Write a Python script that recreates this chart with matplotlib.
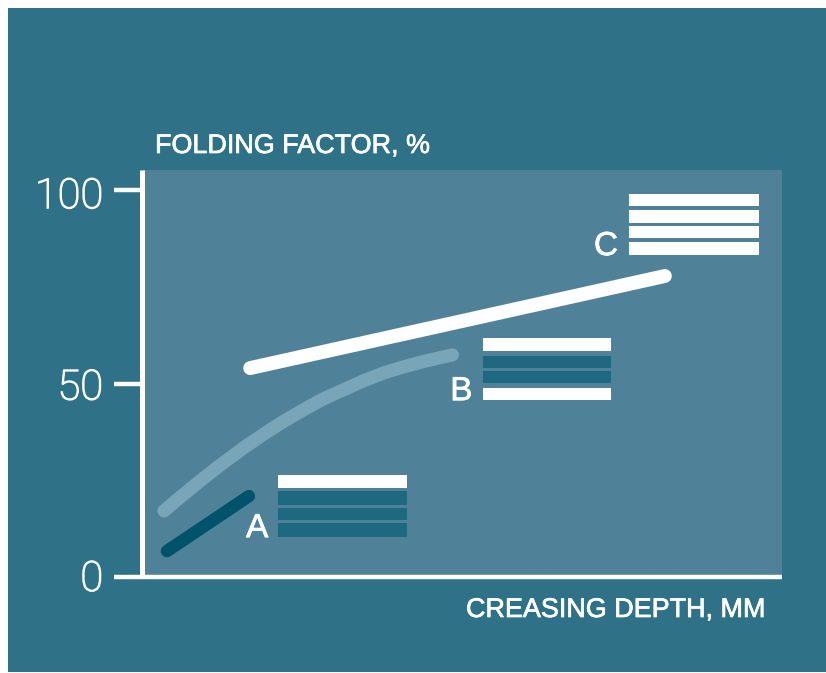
import matplotlib
matplotlib.use('Agg')
import matplotlib.pyplot as plt
import matplotlib.patheffects as pe
from matplotlib.patches import Rectangle
from matplotlib.transforms import ScaledTranslation

plt.rcParams['font.family'] = ['Liberation Sans', 'DejaVu Sans']

W, H = 826, 673

# curves, x has no scale in the source so 0-100 is used along the axis
a_x = [3.9, 16.7]
a_y = [6.7, 20.9]
b_x = [3.44, 6.46, 9.58, 12.7, 15.8, 19.0, 22.1, 25.2, 28.3, 31.5, 34.6, 37.7, 40.8, 44.0, 47.1, 48.5]
b_y = [17.1, 21.3, 25.5, 29.5, 33.3, 36.9, 40.2, 43.2, 46.0, 48.4, 50.7, 52.7, 54.3, 55.7, 56.9, 57.4]
c_x = [16.9, 81.7]
c_y = [54, 77.8]

y_ticks = [0, 50, 100]
y_labels = ['0', '50', '100']

# layer colours top to bottom for each sample
bg = '#2f7288'
panel = '#4f8299'
white = '#ffffff'
layer = '#1f6980'
a_layers = [white, layer, layer, layer]
b_layers = [white, layer, layer, white]
c_layers = [white, white, white, white]


def stack(ax, x0, x1, tops, bottoms, colors):
    # tops and bottoms in y units of the chart
    for t, b, col in zip(tops, bottoms, colors):
        ax.barh((t + b) / 2, x1 - x0, height=t - b, left=x0, color=col, linewidth=0, zorder=3)


fig = plt.figure(figsize=(W / 100, H / 100), dpi=100, facecolor='white')
fig.patches.append(Rectangle((8 / W, 1 - 672 / H), (W - 8) / W, 664 / H,
                             transform=fig.transFigure, facecolor=bg, linewidth=0, zorder=-1))

ax = fig.add_axes([142 / W, (H - 577) / H, (782 - 142) / W, 407 / H])
ax.set_facecolor(panel)
ax.set_xlim(0, 100)
ax.set_ylim(0, 105.2)

ax.plot(b_x, b_y, color='#78a5b8', lw=9.5, solid_capstyle='round', solid_joinstyle='round', zorder=2)
ax.plot(a_x, a_y, color='#00536b', lw=9, solid_capstyle='round', zorder=2)
ax.plot(c_x, c_y, color=white, lw=10, solid_capstyle='round', zorder=2)

stack(ax, 21.2, 41.45, [26.3, 22.2, 17.9, 14.0], [23.0, 18.7, 14.7, 10.3], a_layers)
stack(ax, 53.3, 73.3, [61.8, 57.2, 53.2, 48.9], [58.3, 53.9, 50.05, 45.7], b_layers)
stack(ax, 76.1, 96.45, [99.1, 94.8, 90.8, 86.5], [95.9, 91.6, 87.5, 83.2], c_layers)

stroke = [pe.withStroke(linewidth=0.5, foreground=white)]
ax.text(18.0, 10.3, 'A', color=white, fontsize=24, ha='center', va='baseline', path_effects=stroke)
ax.text(49.9, 45.7, 'B', color=white, fontsize=24, ha='center', va='baseline', path_effects=stroke)
ax.text(72.5, 83.2, 'C', color=white, fontsize=24, ha='center', va='baseline', path_effects=stroke)

for s in ['top', 'right']:
    ax.spines[s].set_visible(False)
ax.spines['left'].set_color(white)
ax.spines['left'].set_linewidth(3.6)
ax.spines['left'].set_capstyle('butt')
ax.spines['bottom'].set_color(white)
ax.spines['bottom'].set_linewidth(3.2)
ax.spines['bottom'].set_capstyle('butt')

ax.set_xticks([])
ax.set_yticks(y_ticks)
ax.set_yticklabels(y_labels, color=white, fontsize=30, family='Roboto', fontweight='light',
                   path_effects=[pe.withStroke(linewidth=0.9, foreground=white)])
ax.tick_params(axis='y', length=20, width=3.2, color=white, pad=8)

# the 100 sits a little under its tick in the source, the 0 a little above the baseline
for lab, dy in zip(ax.get_yticklabels(), [1.5, 0, -1.5]):
    lab.set_transform(lab.get_transform() + ScaledTranslation(0, dy / 72, fig.dpi_scale_trans))

fig.text(155 / W, 1 - 153 / H, 'FOLDING FACTOR, %', color=white, fontsize=19.4, path_effects=stroke)
fig.text(466 / W, 1 - 617 / H, 'CREASING DEPTH, MM', color=white, fontsize=19.4, path_effects=stroke)

fig.savefig('out.png', dpi=100, facecolor='white')
